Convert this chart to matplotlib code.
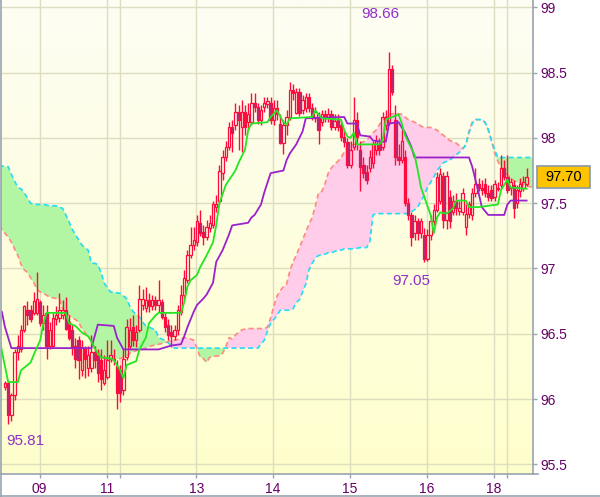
import numpy as np
import matplotlib.pyplot as plt
import matplotlib.transforms as mtransforms
from matplotlib.patches import Rectangle
from matplotlib.collections import LineCollection
from matplotlib.colors import LinearSegmentedColormap
from matplotlib.lines import Line2D

plt.rcParams['font.family'] = ['Liberation Sans', 'DejaVu Sans']

# hourly candles (bar index 0..163)
opens = [96.09, 96.12, 95.88, 96.03, 96.36, 96.38, 96.53, 96.68, 96.68, 96.66,
         96.66, 96.74, 96.58, 96.66, 96.41, 96.41, 96.61, 96.62, 96.64, 96.68,
         96.59, 96.53, 96.41, 96.45, 96.22, 96.39, 96.24, 96.24, 96.36, 96.34,
         96.30, 96.12, 96.17, 96.31, 96.31, 96.25, 96.22, 96.07, 96.32, 96.41,
         96.55, 96.45, 96.53, 96.72, 96.70, 96.76, 96.71, 96.76, 96.72, 96.74,
         96.63, 96.57, 96.51, 96.48, 96.53, 96.67, 96.80, 96.91, 97.10, 97.18,
         97.20, 97.35, 97.28, 97.24, 97.31, 97.33, 97.47, 97.52, 97.73, 97.85,
         97.93, 98.08, 98.10, 98.20, 98.08, 98.20, 98.12, 98.12, 98.27, 98.24,
         98.14, 98.24, 98.26, 98.27, 98.14, 98.23, 98.11, 97.96, 98.10, 98.16,
         98.37, 98.19, 98.35, 98.21, 98.23, 98.31, 98.23, 98.15, 98.16, 98.12,
         98.18, 98.15, 98.18, 98.08, 98.14, 98.10, 98.01, 97.97, 97.79, 97.93,
         98.14, 97.91, 97.79, 97.74, 97.77, 97.81, 97.91, 97.95, 97.93, 98.10,
         98.12, 98.53, 98.14, 97.85, 97.83, 97.85, 97.50, 97.41, 97.27, 97.36,
         97.27, 97.26, 97.07, 97.26, 97.36, 97.45, 97.52, 97.71, 97.37, 97.55,
         97.43, 97.52, 97.44, 97.43, 97.32, 97.42, 97.41, 97.58, 97.65, 97.62,
         97.65, 97.58, 97.60, 97.55, 97.62, 97.64, 97.77, 97.70, 97.62, 97.64,
         97.50, 97.59, 97.62, 97.65]
highs = [96.14, 96.13, 96.05, 96.38, 96.49, 96.57, 96.72, 96.75, 96.72, 96.82,
         96.97, 96.76, 96.72, 96.72, 96.59, 96.66, 96.71, 96.81, 96.76, 96.78,
         96.64, 96.57, 96.47, 96.48, 96.45, 96.41, 96.41, 96.49, 96.41, 96.38,
         96.38, 96.34, 96.45, 96.45, 96.38, 96.30, 96.26, 96.38, 96.61, 96.62,
         96.64, 96.57, 96.87, 96.84, 96.86, 96.81, 96.80, 96.79, 96.91, 96.77,
         96.67, 96.61, 96.57, 96.57, 96.72, 96.87, 96.99, 97.14, 97.32, 97.32,
         97.41, 97.45, 97.33, 97.37, 97.41, 97.52, 97.56, 97.79, 97.91, 97.98,
         98.12, 98.14, 98.27, 98.25, 98.29, 98.25, 98.27, 98.34, 98.34, 98.27,
         98.25, 98.31, 98.31, 98.31, 98.29, 98.29, 98.18, 98.14, 98.21, 98.43,
         98.41, 98.38, 98.38, 98.33, 98.34, 98.34, 98.27, 98.24, 98.20, 98.21,
         98.21, 98.23, 98.21, 98.18, 98.18, 98.14, 98.06, 98.00, 97.98, 98.31,
         98.20, 97.98, 97.85, 97.79, 97.91, 97.98, 98.02, 98.00, 98.20, 98.21,
         98.66, 98.56, 98.25, 97.95, 98.06, 97.91, 97.54, 97.43, 97.41, 97.39,
         97.39, 97.31, 97.30, 97.41, 97.49, 97.74, 97.77, 97.74, 97.75, 97.60,
         97.56, 97.58, 97.52, 97.62, 97.49, 97.52, 97.62, 97.77, 97.69, 97.68,
         97.69, 97.64, 97.64, 97.68, 97.66, 97.87, 97.83, 97.87, 97.69, 97.68,
         97.64, 97.69, 97.71, 97.77]
lows = [96.07, 95.81, 95.83, 95.99, 96.30, 96.36, 96.51, 96.57, 96.59, 96.64,
        96.64, 96.56, 96.53, 96.31, 96.38, 96.39, 96.57, 96.59, 96.61, 96.53,
        96.45, 96.34, 96.24, 96.15, 96.18, 96.16, 96.18, 96.21, 96.24, 96.13,
        96.07, 96.11, 96.15, 96.28, 96.26, 95.92, 95.98, 96.03, 96.30, 96.38,
        96.41, 96.40, 96.51, 96.68, 96.67, 96.67, 96.68, 96.68, 96.67, 96.61,
        96.51, 96.45, 96.40, 96.45, 96.49, 96.64, 96.77, 96.89, 97.08, 97.14,
        97.17, 97.25, 97.18, 97.22, 97.28, 97.31, 97.43, 97.49, 97.68, 97.82,
        97.91, 97.89, 98.06, 97.91, 97.89, 98.02, 98.06, 98.10, 98.20, 98.11,
        98.10, 98.20, 98.23, 98.11, 98.10, 98.14, 97.95, 97.88, 98.02, 98.14,
        98.29, 98.18, 98.17, 98.18, 98.20, 98.20, 98.14, 98.12, 97.95, 98.09,
        98.12, 98.12, 98.06, 98.06, 98.05, 97.98, 97.93, 97.77, 97.77, 97.91,
        97.91, 97.59, 97.69, 97.65, 97.74, 97.77, 97.87, 97.87, 97.91, 98.06,
        98.10, 98.33, 97.79, 97.79, 97.81, 97.48, 97.37, 97.17, 97.22, 97.22,
        97.23, 97.05, 97.06, 97.22, 97.33, 97.43, 97.49, 97.31, 97.30, 97.31,
        97.41, 97.41, 97.41, 97.41, 97.26, 97.39, 97.37, 97.55, 97.59, 97.56,
        97.55, 97.52, 97.52, 97.52, 97.59, 97.62, 97.68, 97.58, 97.56, 97.39,
        97.46, 97.55, 97.59, 97.63]
closes = [96.12, 95.88, 96.03, 96.36, 96.41, 96.53, 96.71, 96.64, 96.61, 96.75,
          96.77, 96.58, 96.64, 96.41, 96.53, 96.62, 96.64, 96.68, 96.68, 96.54,
          96.47, 96.39, 96.31, 96.30, 96.40, 96.31, 96.34, 96.36, 96.30, 96.20,
          96.15, 96.22, 96.30, 96.34, 96.30, 96.05, 96.05, 96.31, 96.55, 96.53,
          96.45, 96.51, 96.77, 96.77, 96.76, 96.71, 96.76, 96.72, 96.76, 96.63,
          96.55, 96.49, 96.48, 96.53, 96.68, 96.80, 96.93, 97.10, 97.18, 97.22,
          97.36, 97.27, 97.24, 97.32, 97.35, 97.49, 97.49, 97.75, 97.85, 97.93,
          98.08, 98.04, 98.20, 98.14, 98.20, 98.08, 98.18, 98.27, 98.24, 98.14,
          98.21, 98.27, 98.28, 98.14, 98.23, 98.18, 97.96, 98.10, 98.16, 98.37,
          98.34, 98.35, 98.19, 98.29, 98.31, 98.23, 98.16, 98.20, 98.06, 98.18,
          98.15, 98.18, 98.08, 98.13, 98.08, 98.01, 97.97, 97.79, 97.91, 98.14,
          98.01, 97.78, 97.73, 97.68, 97.85, 97.95, 97.98, 97.91, 98.16, 98.16,
          98.53, 98.35, 97.85, 97.83, 97.98, 97.50, 97.41, 97.24, 97.36, 97.27,
          97.36, 97.07, 97.26, 97.36, 97.45, 97.70, 97.72, 97.37, 97.71, 97.36,
          97.52, 97.46, 97.46, 97.58, 97.42, 97.49, 97.58, 97.65, 97.62, 97.60,
          97.58, 97.55, 97.54, 97.65, 97.61, 97.77, 97.70, 97.60, 97.66, 97.46,
          97.60, 97.65, 97.66, 97.70]

# conversion line (green) and base line (purple), read at their corners
tenkan_x = [-2, 1, 4, 5, 7, 8, 9, 11, 12, 13, 19, 20, 22, 24, 26, 27, 28, 29, 30, 33,
            34, 36, 37, 38, 41, 42, 44, 45, 47, 48, 55, 56, 57, 58, 60, 61, 63, 65, 66, 67,
            69, 72, 73, 75, 76, 77, 82, 83, 85, 87, 88, 89, 96, 97, 99, 105, 106, 107, 108, 109,
            110, 117, 118, 119, 123, 124, 125, 128, 129, 130, 131, 133, 134, 135, 136, 138, 140, 141, 144, 145,
            148, 154, 155, 157, 158, 163]
tenkan_y = [96.49, 96.13, 96.13, 96.22, 96.26, 96.28, 96.34, 96.45, 96.58, 96.66,
            96.66, 96.58, 96.56, 96.51, 96.48, 96.44, 96.39, 96.35, 96.32, 96.31,
            96.30, 96.22, 96.16, 96.26, 96.29, 96.38, 96.47, 96.58, 96.64, 96.66,
            96.66, 96.74, 96.86, 96.91, 96.95, 97.01, 97.10, 97.20, 97.33, 97.50,
            97.64, 97.75, 97.81, 97.91, 98.06, 98.11, 98.12, 98.16, 98.21, 98.12,
            98.10, 98.15, 98.16, 98.21, 98.15, 98.14, 98.06, 98.01, 98.00, 98.04,
            97.95, 97.95, 97.98, 98.14, 98.18, 98.11, 98.02, 97.87, 97.75, 97.62,
            97.55, 97.41, 97.27, 97.39, 97.43, 97.42, 97.46, 97.52, 97.52, 97.47,
            97.47, 97.49, 97.60, 97.68, 97.62, 97.61]
kijun_x = [-2, -1, 0, 2, 27, 29, 34, 35, 37, 48, 52, 55, 56, 57, 58, 59, 60, 62, 63, 65,
           66, 68, 70, 71, 76, 77, 78, 80, 81, 83, 87, 88, 89, 91, 93, 94, 106, 107, 110, 111,
           114, 115, 118, 119, 120, 123, 125, 127, 128, 145, 146, 147, 148, 149, 151, 156, 157, 158, 163]
kijun_y = [96.68, 96.67, 96.55, 96.39, 96.39, 96.57, 96.56, 96.47, 96.38, 96.38,
           96.41, 96.42, 96.48, 96.55, 96.61, 96.67, 96.72, 96.77, 96.80, 96.89,
           97.05, 97.14, 97.26, 97.33, 97.35, 97.39, 97.41, 97.49, 97.58, 97.73,
           97.75, 97.83, 97.88, 97.95, 98.05, 98.15, 98.16, 98.11, 98.11, 98.02,
           98.01, 97.98, 97.97, 97.97, 98.11, 98.12, 98.04, 97.93, 97.85, 97.85,
           97.78, 97.68, 97.58, 97.47, 97.41, 97.41, 97.49, 97.52, 97.52]

# leading spans A (cyan) and B (salmon)
span_x = [-2, 0, 1, 2, 3, 4, 5, 6, 7, 8,
          9, 10, 11, 12, 14, 16, 17, 18, 19, 20,
          21, 22, 23, 24, 25, 26, 27, 28, 29, 30,
          31, 32, 33, 36, 38, 39, 40, 42, 43, 44,
          46, 47, 48, 50, 52, 53, 56, 58, 59, 60,
          61, 62, 63, 64, 66, 67, 68, 69, 70, 71,
          72, 74, 76, 79, 80, 81, 82, 83, 84, 85,
          86, 87, 88, 89, 90, 91, 92, 93, 94, 95,
          96, 97, 98, 99, 100, 101, 102, 103, 104, 105,
          106, 107, 109, 111, 113, 114, 115, 116, 118, 120,
          122, 124, 126, 128, 129, 130, 131, 132, 133, 134,
          135, 137, 139, 141, 142, 143, 144, 145, 146, 147,
          149, 150, 151, 152, 153, 154, 155, 156, 157, 158,
          159, 161, 163, 166]
span_a = [97.79, 97.78, 97.78, 97.72, 97.67, 97.62, 97.61, 97.58, 97.54, 97.50,
          97.49, 97.49, 97.49, 97.49, 97.48, 97.48, 97.47, 97.46, 97.41, 97.36,
          97.30, 97.26, 97.22, 97.18, 97.16, 97.14, 97.04, 97.04, 97.03, 96.97,
          96.89, 96.85, 96.82, 96.81, 96.77, 96.71, 96.67, 96.63, 96.59, 96.56,
          96.54, 96.53, 96.47, 96.45, 96.41, 96.39, 96.39, 96.39, 96.39, 96.39,
          96.39, 96.39, 96.39, 96.39, 96.39, 96.39, 96.39, 96.39, 96.39, 96.39,
          96.39, 96.39, 96.39, 96.39, 96.42, 96.45, 96.52, 96.58, 96.61, 96.64,
          96.68, 96.68, 96.68, 96.68, 96.69, 96.74, 96.76, 96.82, 96.88, 96.99,
          97.04, 97.08, 97.10, 97.10, 97.11, 97.12, 97.12, 97.13, 97.14, 97.14,
          97.15, 97.15, 97.15, 97.16, 97.16, 97.20, 97.41, 97.42, 97.42, 97.42,
          97.42, 97.42, 97.42, 97.45, 97.47, 97.52, 97.56, 97.62, 97.66, 97.70,
          97.75, 97.81, 97.83, 97.87, 97.89, 97.91, 97.95, 98.04, 98.11, 98.14,
          98.14, 98.12, 98.07, 97.98, 97.91, 97.85, 97.85, 97.85, 97.85, 97.85,
          97.85, 97.85, 97.85, 97.85]
span_b = [97.33, 97.27, 97.24, 97.20, 97.15, 97.10, 97.03, 96.99, 96.97, 96.93,
          96.89, 96.84, 96.82, 96.81, 96.78, 96.77, 96.77, 96.69, 96.66, 96.64,
          96.62, 96.61, 96.59, 96.54, 96.51, 96.48, 96.45, 96.39, 96.36, 96.33,
          96.31, 96.30, 96.30, 96.31, 96.33, 96.35, 96.36, 96.38, 96.38, 96.39,
          96.41, 96.41, 96.42, 96.43, 96.45, 96.45, 96.47, 96.46, 96.45, 96.39,
          96.32, 96.31, 96.28, 96.32, 96.33, 96.33, 96.35, 96.40, 96.47, 96.46,
          96.49, 96.53, 96.54, 96.54, 96.54, 96.54, 96.55, 96.62, 96.71, 96.79,
          96.83, 96.86, 96.88, 96.98, 97.05, 97.10, 97.16, 97.22, 97.28, 97.34,
          97.39, 97.48, 97.58, 97.59, 97.65, 97.73, 97.77, 97.80, 97.82, 97.85,
          97.89, 97.93, 97.95, 97.96, 97.98, 98.01, 98.04, 98.06, 98.14, 98.18,
          98.19, 98.18, 98.14, 98.12, 98.11, 98.09, 98.08, 98.08, 98.08, 98.07,
          98.06, 98.02, 97.98, 97.96, 97.94, 97.92, 97.94, 98.05, 98.12, 98.14,
          98.14, 98.12, 98.06, 97.98, 97.89, 97.82, 97.78, 97.74, 97.72, 97.69,
          97.67, 97.65, 97.63, 97.62]

day_bars = [11, 32, 36, 60, 84, 108, 132, 153, 157]
day_labels = ['09', '11', '', '13', '14', '15', '16', '18', '']
price_ticks = [95.5, 96, 96.5, 97, 97.5, 98, 98.5, 99]
last_price = 97.70

RED = '#ff0a3c'
DOWN_FILL = '#a8307a'
LABEL = '#660066'
MARK = '#9030c8'
FRAME = '#98a4ae'
GRID = '#deddbf'

W, H = 600, 497
fig = plt.figure(figsize=(W / 100, H / 100), dpi=100, facecolor='white')
ax = fig.add_axes([1 / W, 23 / H, 532 / W, 474 / H])

# background gradient
bg = LinearSegmentedColormap.from_list('bg', ['#fdfdf4', '#ffffcc'])
ax.imshow(np.linspace(0, 1, 256).reshape(-1, 1), aspect='auto', cmap=bg,
          extent=(0, 1, 0, 1), transform=ax.transAxes, zorder=0)

for p in price_ticks:
    ax.axhline(p, color=GRID, lw=1, zorder=1)
for b in day_bars:
    ax.axvline(b - 0.2, color=GRID, lw=1, zorder=1)

# cloud
sx = np.array(span_x)
sa = np.array(span_a)
sb = np.array(span_b)
ax.fill_between(sx, sa, sb, where=sa >= sb, interpolate=True, color='#b2f5a2', lw=0, zorder=2)
ax.fill_between(sx, sa, sb, where=sa < sb, interpolate=True, color='#ffcce9', lw=0, zorder=2)
ax.plot(sx, sb, color='#ff8a80', lw=1.2, ls=(0, (3, 2)), zorder=3)
ax.plot(sx, sa, color='#22ddf5', lw=1.2, ls=(0, (3, 2)), zorder=3)

# candles
o = np.array(opens)
hi = np.array(highs)
lo = np.array(lows)
c = np.array(closes)
idx = np.arange(len(o))
top = np.maximum(o, c)
bot = np.minimum(o, c)
segs = []
for i in idx:
    segs.append([(i, hi[i]), (i, top[i])])
    segs.append([(i, bot[i]), (i, lo[i])])
ax.add_collection(LineCollection(segs, colors=RED, linewidths=1.0, zorder=4))
bw = 0.7
for i in idx:
    down = c[i] < o[i]
    ax.add_patch(Rectangle((i - bw / 2, bot[i]), bw, max(top[i] - bot[i], 0.004),
                           facecolor=DOWN_FILL if down else 'none',
                           edgecolor=RED, lw=0.9, zorder=4))

ax.plot(kijun_x, kijun_y, color='#9a22cc', lw=1.3, zorder=5)
ax.plot(tenkan_x, tenkan_y, color='#22e622', lw=1.3, zorder=5)

# high / low marks
ih = int(np.argmax(hi))
il = int(np.argmin(lo))
il2 = 100 + int(np.argmin(lo[100:]))
ax.annotate(f'{hi[ih]:.2f}', xy=(ih, hi[ih]), xytext=(-6, 27), textcoords='offset points',
            ha='center', va='center', color=MARK, fontsize=11, zorder=6)
ax.annotate(f'{lo[il2]:.2f}', xy=(il2, lo[il2]), xytext=(-9, -14), textcoords='offset points',
            ha='center', va='center', color=MARK, fontsize=11, zorder=6)
ax.annotate(f'{lo[il]:.2f}', xy=(il, lo[il]), xytext=(12, -12), textcoords='offset points',
            ha='center', va='center', color=MARK, fontsize=11, zorder=6)

ax.set_xlim(-1.25, 165)
ax.set_ylim(95.426, 99.056)

for s in ['left', 'top']:
    ax.spines[s].set_visible(False)
for s in ['right', 'bottom']:
    ax.spines[s].set_color(FRAME)
    ax.spines[s].set_linewidth(1.2)

ax.yaxis.tick_right()
ax.set_yticks(price_ticks)
ax.set_yticklabels([f'{p:g}' for p in price_ticks])
ax.set_xticks([b - 0.2 for b in day_bars])
ax.set_xticklabels(day_labels)
ax.tick_params(axis='y', direction='out', length=3, width=1, color=FRAME,
               labelcolor=LABEL, labelsize=10, pad=2)
ax.tick_params(axis='x', direction='out', length=3, width=1, color=FRAME,
               labelcolor=LABEL, labelsize=10, pad=3)

# last price box
yc = ax.transData.transform((0, last_price))[1]
fig.add_artist(Rectangle((537, yc - 11), 53, 22, transform=mtransforms.IdentityTransform(),
                         facecolor='#ffc400', edgecolor='#8a98a6', lw=1.2))
fig.text(563.5 / W, yc / H, f'{last_price:.2f}', ha='center', va='center',
         fontsize=10.5, color='black')

# outer frame
fig.add_artist(Line2D([0.5 / W, 0.5 / W], [0, 1], color=FRAME, lw=1.2))
fig.add_artist(Line2D([0, 1], [1 / H, 1 / H], color=FRAME, lw=1.2))
fig.add_artist(Line2D([533 / W, 538 / W], [23 / H, 23 / H], color=FRAME, lw=1.2))

fig.savefig('out.png', dpi=100, facecolor='white')
